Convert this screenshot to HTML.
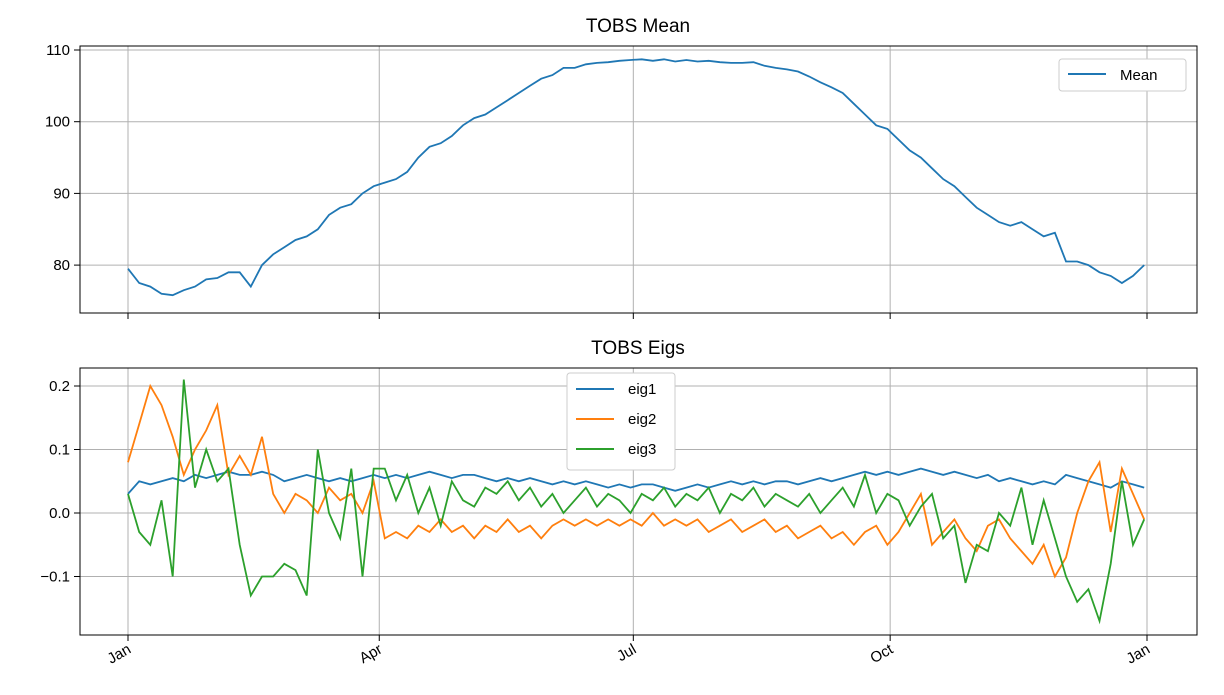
<!DOCTYPE html>
<html><head><meta charset="utf-8"><style>
body{margin:0;background:#fff;}
svg{font-family:"Liberation Sans","DejaVu Sans",sans-serif;}
</style></head><body>
<svg id="c" width="1224" height="690"></svg>
<script>
const days = Array.from({length:92},(_,i)=>i*4);
const meanVals=[79.5,77.5,77,76,75.8,76.5,77,78,78.2,79,79,77,80,81.5,82.5,83.5,84,85,87,88,88.5,90,91,91.5,92,93,95,96.5,97,98,99.5,100.5,101,102,103,104,105,106,106.5,107.5,107.5,108,108.2,108.3,108.5,108.6,108.7,108.5,108.7,108.4,108.6,108.4,108.5,108.3,108.2,108.2,108.3,107.8,107.5,107.3,107,106.3,105.5,104.8,104,102.5,101,99.5,99,97.5,96,95,93.5,92,91,89.5,88,87,86,85.5,86,85,84,84.5,80.5,80.5,80,79,78.5,77.5,78.5,80];
const eig1=[.03,.05,.045,.05,.055,.05,.06,.055,.06,.065,.06,.06,.065,.06,.05,.055,.06,.055,.05,.055,.05,.055,.06,.055,.06,.055,.06,.065,.06,.055,.06,.06,.055,.05,.055,.05,.055,.05,.045,.05,.045,.05,.045,.04,.045,.04,.045,.045,.04,.035,.04,.045,.04,.045,.05,.045,.05,.045,.05,.05,.045,.05,.055,.05,.055,.06,.065,.06,.065,.06,.065,.07,.065,.06,.065,.06,.055,.06,.05,.055,.05,.045,.05,.045,.06,.055,.05,.045,.04,.05,.045,.04];
const eig2=[.08,.14,.2,.17,.12,.06,.1,.13,.17,.06,.09,.06,.12,.03,0,.03,.02,0,.04,.02,.03,0,.05,-.04,-.03,-.04,-.02,-.03,-.01,-.03,-.02,-.04,-.02,-.03,-.01,-.03,-.02,-.04,-.02,-.01,-.02,-.01,-.02,-.01,-.02,-.01,-.02,0,-.02,-.01,-.02,-.01,-.03,-.02,-.01,-.03,-.02,-.01,-.03,-.02,-.04,-.03,-.02,-.04,-.03,-.05,-.03,-.02,-.05,-.03,0,.03,-.05,-.03,-.01,-.04,-.06,-.02,-.01,-.04,-.06,-.08,-.05,-.1,-.07,0,.05,.08,-.03,.07,.03,-.01];
const eig3=[.03,-.03,-.05,.02,-.1,.21,.04,.1,.05,.07,-.05,-.13,-.1,-.1,-.08,-.09,-.13,.1,0,-.04,.07,-.1,.07,.07,.02,.06,0,.04,-.02,.05,.02,.01,.04,.03,.05,.02,.04,.01,.03,0,.02,.04,.01,.03,.02,0,.03,.02,.04,.01,.03,.02,.04,0,.03,.02,.04,.01,.03,.02,.01,.03,0,.02,.04,.01,.06,0,.03,.02,-.02,.01,.03,-.04,-.02,-.11,-.05,-.06,0,-.02,.04,-.05,.02,-.04,-.1,-.14,-.12,-.17,-.08,.05,-.05,-.01];
const xTicks=[0,90,181,273,365];
const xLabels=["Jan","Apr","Jul","Oct","Jan"];
const topTicks=[80,90,100,110];
const botTicks=[-0.1,0.0,0.1,0.2];
const botLabels=["−0.1","0.0","0.1","0.2"];

const NS="http://www.w3.org/2000/svg";
const svg=document.getElementById('c');
function mk(t,a,p){const e=document.createElementNS(NS,t);for(const k in a)e.setAttribute(k,a[k]);(p||svg).appendChild(e);return e;}
const L=80,R=1197;
const x=d=>128+(d/365)*(1147-128);
const yT=v=>50+(110-v)*7.17;
const yB=v=>513-v*635;

function axes(top,bot,name,title,ty){
  const g=mk('g',{});
  
  
  const t=mk('text',{x:638,y:ty,'text-anchor':'middle','font-size':19,fill:'#000'},g);
  t.textContent=title;
  
  
  xTicks.forEach(d=>{mk('line',{x1:x(d),x2:x(d),y1:top,y2:bot,stroke:'#b0b0b0','stroke-width':1},g);
    mk('line',{x1:x(d),x2:x(d),y1:bot,y2:bot+6,stroke:'#000'},g);});
  return g;
}
function box(g,top,bot){mk('rect',{x:L,y:top,width:R-L,height:bot-top,fill:'none',stroke:'#000','stroke-width':1},g);}
function path(g,ys,yf,col,name){
  const p=mk('path',{d:ys.map((v,i)=>(i?'L':'M')+x(days[i]).toFixed(1)+','+yf(v).toFixed(1)).join(''),fill:'none',stroke:col,'stroke-width':1.8},g);
  
  
}
const g1=axes(46,313,'mean-axes','TOBS Mean',32);
topTicks.forEach(v=>{mk('line',{x1:L,x2:R,y1:yT(v),y2:yT(v),stroke:'#b0b0b0'},g1);
  mk('line',{x1:L-6,x2:L,y1:yT(v),y2:yT(v),stroke:'#000'},g1);
  const t=mk('text',{x:L-10,y:yT(v)+5,'text-anchor':'end','font-size':15},g1);t.textContent=v;});
path(g1,meanVals,yT,'#1f77b4','mean-line');
box(g1,46,313);
const lg1=mk('g',{},g1);


mk('rect',{x:1059,y:59,width:127,height:32,rx:3,fill:'#fff',stroke:'#ccc'},lg1);
mk('line',{x1:1068,x2:1106,y1:74,y2:74,stroke:'#1f77b4','stroke-width':2},lg1);
let tt=mk('text',{x:1120,y:80,'font-size':15},lg1);tt.textContent='Mean';

const g2=axes(368,635,'eigs-axes','TOBS Eigs',354);
botTicks.forEach((v,i)=>{mk('line',{x1:L,x2:R,y1:yB(v),y2:yB(v),stroke:'#b0b0b0'},g2);
  mk('line',{x1:L-6,x2:L,y1:yB(v),y2:yB(v),stroke:'#000'},g2);
  const t=mk('text',{x:L-10,y:yB(v)+5,'text-anchor':'end','font-size':15},g2);t.textContent=botLabels[i];});
path(g2,eig1,yB,'#1f77b4','eig1-line');
path(g2,eig2,yB,'#ff7f0e','eig2-line');
path(g2,eig3,yB,'#2ca02c','eig3-line');
box(g2,368,635);
xTicks.forEach((d,i)=>{const t=mk('text',{x:x(d)+4,y:652,'text-anchor':'end','font-size':15,transform:`rotate(-30 ${x(d)+4} 652)`},g2);t.textContent=xLabels[i];
  
  });
const lg2=mk('g',{},g2);


mk('rect',{x:567,y:373,width:108,height:97,rx:3,fill:'#fff',stroke:'#ccc'},lg2);
[['eig1','#1f77b4'],['eig2','#ff7f0e'],['eig3','#2ca02c']].forEach((s,i)=>{
  const yy=389+i*30;
  mk('line',{x1:576,x2:614,y1:yy,y2:yy,stroke:s[1],'stroke-width':2},lg2);
  const t=mk('text',{x:628,y:yy+5,'font-size':15},lg2);t.textContent=s[0];
});
</script>
</body></html>
